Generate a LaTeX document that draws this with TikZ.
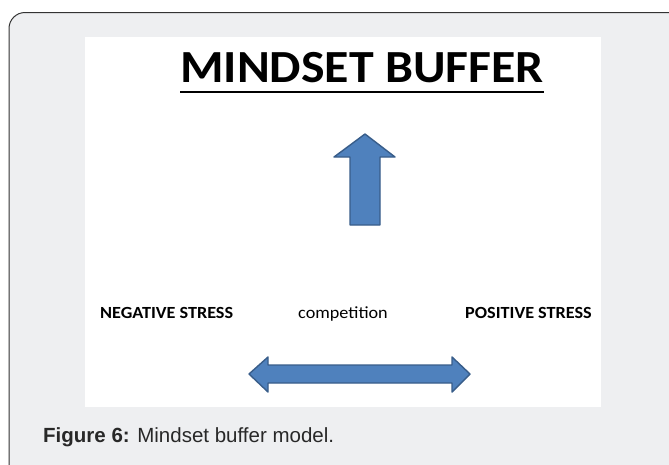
\documentclass[tikz,border=0pt]{standalone}
\usepackage{fontspec}
\setmainfont{Carlito}[FakeStretch=1.07]
\newfontfamily\titlefont{Carlito}[FakeStretch=1.084]
\newfontfamily\captionfont{Liberation Sans}
\definecolor{panelgray}{RGB}{238,239,241}
\definecolor{framegray}{RGB}{51,51,51}
\definecolor{arrowblue}{RGB}{79,129,189}
\definecolor{arrowedge}{RGB}{56,93,138}
\definecolor{captiongray}{RGB}{40,40,40}
\tikzset{
  label text/.style={inner sep=0pt, anchor=base west, text=black},
  blue arrow/.style={fill=arrowblue, draw=arrowedge, line width=1.4pt, line join=round},
}
\begin{document}
\begin{tikzpicture}[x=1pt, y=-1pt]
  \useasboundingbox (0,0) rectangle (669,464);
  % outer panel, running off the right and bottom edges
  \begin{scope}
    \clip (0,0) rectangle (669,464);
    \draw[fill=panelgray, draw=framegray, line width=1pt, rounded corners=16pt]
      (9,12.5) rectangle (690,490);
  \end{scope}
  % white slide area
  \fill[white] (85,37) rectangle (601,407);
  % title
  \node[label text, font=\titlefont\bfseries\fontsize{46}{50}\selectfont] (title) at (180,82) {MINDSET BUFFER};
  \draw[line width=2pt] ([yshift=-10pt]title.base west) -- ([yshift=-10pt]title.base east);
  % upward arrow
  \draw[blue arrow] (350,225) -- (350,157) -- (334,157) -- (365,134) -- (395,157)
    -- (380,157) -- (380,225) -- cycle;
  % labels
  \node[label text, font=\bfseries\fontsize{17}{20}\selectfont] (neg) at (100,318) {NEGATIVE STRESS};
  \node[label text, font=\fontsize{17}{20}\selectfont] (comp) at (298,318) {competition};
  \node[label text, font=\bfseries\fontsize{17}{20}\selectfont] (pos) at (465,318) {POSITIVE STRESS};
  % two-headed arrow
  \draw[blue arrow] (249,374) -- (268,357) -- (268,365) -- (452,365) -- (452,357)
    -- (470,374) -- (452,392) -- (452,383) -- (268,383) -- (268,392) -- cycle;
  % caption
  \node[label text, text=captiongray, font=\captionfont\fontsize{20.5}{24}\selectfont] (cap) at (43,442.7)
    {\textbf{Figure 6:} Mindset buffer model.};
\end{tikzpicture}
\end{document}
